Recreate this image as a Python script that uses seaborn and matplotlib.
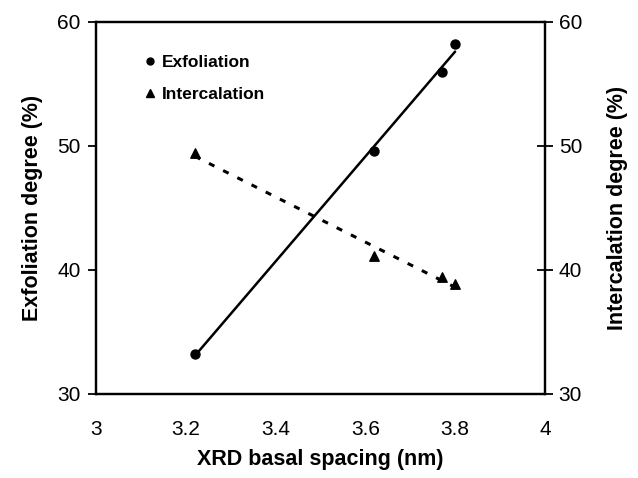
import numpy as np
import pandas as pd
import matplotlib
matplotlib.use("Agg")
import matplotlib.pyplot as plt
import seaborn as sns
from matplotlib.lines import Line2D

# Data
spacing = [3.22, 3.62, 3.77, 3.80]
exfoliation = [33.2, 49.6, 56.0, 58.2]
intercalation = [49.4, 41.1, 39.4, 38.9]

xticks = [3, 3.2, 3.4, 3.6, 3.8, 4]
xtick_labels = ["3", "3.2", "3.4", "3.6", "3.8", "4"]
yticks = [30, 40, 50, 60]

df = pd.DataFrame({"spacing": spacing, "exf": exfoliation, "int": intercalation})

sns.set_theme(style="white")
plt.rcParams["font.family"] = ["Liberation Sans", "DejaVu Sans"]
plt.rcParams["text.color"] = "black"
plt.rcParams["axes.labelcolor"] = "black"

fig = plt.figure(figsize=(6.38, 4.78), dpi=100)
ax = fig.add_axes([0.1505, 0.176, 0.7035, 0.778])
ax2 = ax.twinx()

sns.regplot(data=df, x="spacing", y="exf", ax=ax, ci=None, truncate=True,
            marker="o", color="black",
            scatter_kws={"s": 42, "zorder": 3, "alpha": 1, "edgecolors": "black"},
            line_kws={"lw": 1.8, "color": "black"})
sns.regplot(data=df, x="spacing", y="int", ax=ax2, ci=None, truncate=True,
            marker="^", color="black",
            scatter_kws={"s": 46, "zorder": 3, "alpha": 1, "edgecolors": "black"},
            line_kws={"lw": 2.2, "color": "black", "linestyle": (0, (2.0, 3.2))})

for a in (ax, ax2):
    a.set_xlim(3, 4)
    a.set_ylim(30, 60)
    a.set_yticks(yticks)
    for s in a.spines.values():
        s.set_color("black")
        s.set_linewidth(1.6)

ax.set_xticks(xticks)
ax.set_xticklabels(xtick_labels)
ax.tick_params(axis="both", which="major", direction="out", length=6, width=1.3,
               colors="black", labelsize=15, pad=5)
ax.tick_params(axis="x", pad=13)
ax2.tick_params(axis="y", direction="inout", length=12, width=1.3,
                colors="black", labelsize=15, pad=4)

ax.set_xlabel("XRD basal spacing (nm)", fontsize=15.5, fontweight="bold", labelpad=7)
ax.set_ylabel("Exfoliation degree (%)", fontsize=15.5, fontweight="bold", labelpad=10)
ax2.set_ylabel("Intercalation degree (%)", fontsize=15.5, fontweight="bold", labelpad=18)

handles = [
    Line2D([], [], marker="o", color="black", linestyle="none", markersize=5),
    Line2D([], [], marker="^", color="black", linestyle="none", markersize=6),
]
leg = ax.legend(handles, ["Exfoliation", "Intercalation"], loc="upper left",
                frameon=False, prop={"weight": "bold", "size": 12.5},
                handletextpad=0.2, handlelength=1.0, labelspacing=0.95,
                bbox_to_anchor=(0.085, 0.93), borderaxespad=0)

fig.savefig("out.png", dpi=100)
